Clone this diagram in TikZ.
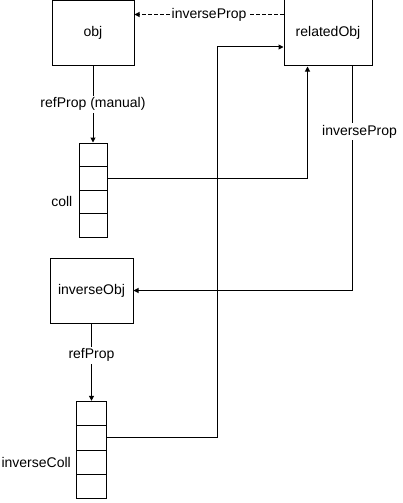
\documentclass[tikz,border=0pt]{standalone}
\usepackage{fontspec}
\setmainfont{Liberation Sans}
\usetikzlibrary{arrows.meta,positioning,calc}
\tikzset{ob/.style={draw,line width=1pt,minimum width=82pt,minimum height=65pt,inner sep=0pt},
 cell/.style={draw,line width=1pt,minimum width=28pt,minimum height=23.5pt,inner sep=0pt},
 wire/.style={line width=1pt},arr/.style={wire,-{Triangle[length=5pt,width=5pt]}},
 dsh/.style={arr,dash pattern=on 4pt off 2pt},
 lbl/.style={fill=white,inner sep=2pt},
 every node/.style={font=\fontsize{14}{16}\selectfont}}
\begin{document}
\begin{tikzpicture}[x=1pt,y=-1pt]
\useasboundingbox (0,0) rectangle (403,503);
\node[ob] (obj) at (93,33) {obj};\node[ob,minimum width=88pt,minimum height=66pt] (rel) at (328,33) {relatedObj};
\node[ob,minimum width=83pt] (inv) at (91.5,290.5) {inverseObj};
\foreach \i/\y in {1/154.75,2/178.25,3/201.75,4/225.25}{\node[cell] (coll\i) at (93,\y) {};}
\foreach \i/\y in {1/413.5,2/437.9,3/462.3,4/486.7}{\node[cell,minimum width=30pt,minimum height=24.4pt] (icoll\i) at (91.5,\y) {};}
\node[anchor=east,inner sep=0pt] (colllbl) at ([xshift=-6pt]coll3.west) {coll};
\node[anchor=east,inner sep=0pt] (icolllbl) at ([xshift=-5pt]icoll3.west) {inverseColl};
\coordinate (bend) at (217.5,47);
\draw[dsh] ([yshift=-15pt]rel.north west) -- ([yshift=-15pt]rel.north west -| obj.east) node[midway,lbl]{inverseProp};
\draw[arr] (obj.south) -- (coll1.north) node[midway,lbl]{refProp (manual)};
\draw[arr] (coll2.east) -| ([xshift=24pt]rel.south west);
\draw[arr] (icoll2.east) -| (bend) -- (bend -| rel.west);
\draw[arr] ([xshift=-20pt]rel.south east) |- (inv.east) node[pos=.145,lbl,xshift=7pt]{inverseProp};
\draw[arr] (inv.south) -- (icoll1.north) node[pos=.41,lbl]{refProp};
\end{tikzpicture}
\end{document}
